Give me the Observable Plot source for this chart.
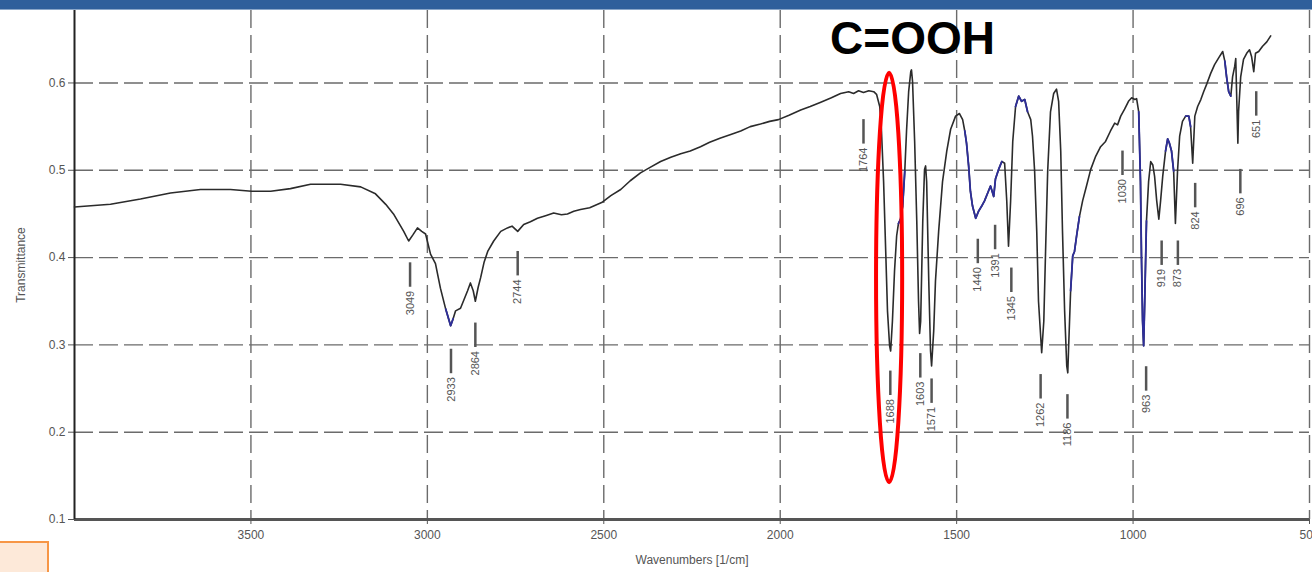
<!DOCTYPE html>
<html>
<head>
<meta charset="utf-8">
<script src="https://cdn.jsdelivr.net/npm/d3@7"></script>
<script src="https://cdn.jsdelivr.net/npm/@observablehq/plot@0.6"></script>
<style>
  html, body { margin: 0; padding: 0; background: #fff; }
  #wrap { position: relative; width: 1312px; height: 572px; overflow: hidden; }
  #topbar { position: absolute; left: 0; top: 0; width: 1312px; height: 9px; background: #2f5f9b; border-bottom: 1px solid #8aa6c8; }
  #box { position: absolute; left: 0; top: 541px; width: 47px; height: 31px; background: #fde9d9; border-top: 2px solid #f79646; border-right: 2px solid #f79646; }
</style>
</head>
<body>
<div id="wrap"><div id="chart"></div><div id="topbar"></div><div id="box"></div></div>
<script>
// Spectrum (wavenumber in 1/cm, transmittance)
const wavenumber = [4000,3898,3813,3728,3643,3558,3498,3444,3388,3331,3246,3189,3147,3118,3096,3067,3053,3041,3028,3016,3005,2991,2977,2963,2948,2934,2927,2920,2906,2896,2886,2878,2870,2864,2856,2849,2839,2829,2812,2792,2773,2760,2744,2727,2708,2688,2665,2642,2620,2603,2585,2566,2540,2506,2480,2452,2425,2396,2370,2339,2310,2282,2255,2226,2200,2169,2140,2112,2085,2056,2030,2005,1975,1942,1915,1885,1855,1829,1806,1792,1778,1764,1749,1735,1727,1718,1713,1707,1701,1696,1690,1687,1682,1676,1670,1665,1659,1653,1647,1642,1636,1630,1628,1625,1619,1613,1608,1605,1602,1596,1591,1588,1585,1579,1574,1571,1565,1560,1551,1540,1528,1517,1503,1492,1483,1477,1472,1466,1461,1455,1446,1438,1429,1421,1412,1404,1395,1390,1381,1372,1364,1358,1353,1347,1341,1333,1324,1316,1307,1299,1290,1285,1279,1273,1268,1259,1253,1248,1242,1234,1225,1217,1211,1205,1200,1194,1188,1185,1183,1177,1171,1166,1160,1152,1143,1132,1120,1106,1092,1078,1064,1052,1044,1035,1024,1013,1004,995,990,984,979,976,973,970,967,962,956,950,944,939,933,927,922,916,908,902,897,891,885,880,874,868,860,851,842,837,831,825,817,808,800,791,780,769,757,746,740,735,729,723,718,712,709,706,703,701,695,687,678,670,664,658,653,644,633,621,610];
const transmittance = [0.458,0.461,0.467,0.474,0.478,0.478,0.476,0.476,0.479,0.484,0.484,0.481,0.473,0.461,0.450,0.430,0.419,0.426,0.434,0.430,0.427,0.404,0.393,0.365,0.341,0.322,0.330,0.339,0.342,0.352,0.362,0.371,0.362,0.350,0.366,0.377,0.395,0.407,0.419,0.430,0.434,0.436,0.430,0.438,0.441,0.445,0.448,0.451,0.449,0.450,0.453,0.455,0.457,0.463,0.471,0.478,0.488,0.497,0.503,0.510,0.515,0.519,0.522,0.527,0.532,0.537,0.541,0.545,0.550,0.553,0.556,0.558,0.563,0.569,0.573,0.578,0.583,0.588,0.590,0.588,0.591,0.589,0.591,0.590,0.587,0.573,0.545,0.487,0.407,0.339,0.299,0.293,0.327,0.385,0.425,0.439,0.444,0.459,0.499,0.545,0.590,0.613,0.615,0.602,0.533,0.442,0.350,0.313,0.327,0.442,0.501,0.505,0.487,0.373,0.293,0.276,0.316,0.373,0.430,0.487,0.522,0.547,0.562,0.565,0.558,0.545,0.531,0.505,0.476,0.459,0.445,0.453,0.459,0.465,0.474,0.482,0.470,0.490,0.501,0.510,0.508,0.465,0.413,0.465,0.533,0.573,0.585,0.579,0.581,0.567,0.558,0.539,0.499,0.430,0.350,0.291,0.327,0.407,0.499,0.567,0.588,0.593,0.579,0.522,0.430,0.339,0.276,0.268,0.293,0.362,0.402,0.407,0.425,0.447,0.465,0.482,0.501,0.516,0.527,0.533,0.545,0.554,0.552,0.562,0.570,0.579,0.583,0.581,0.582,0.567,0.487,0.396,0.327,0.299,0.350,0.442,0.487,0.510,0.506,0.493,0.465,0.444,0.465,0.493,0.522,0.536,0.531,0.522,0.499,0.439,0.499,0.539,0.556,0.562,0.562,0.550,0.508,0.562,0.573,0.581,0.590,0.599,0.611,0.621,0.629,0.636,0.625,0.607,0.590,0.585,0.607,0.619,0.628,0.579,0.531,0.567,0.607,0.627,0.634,0.638,0.630,0.613,0.634,0.636,0.642,0.647,0.654];

// Wavenumber ranges drawn in blue in the original trace
const blueRanges = [[2950,2925],[1668,1645],[1480,1365],[1335,1298],[1180,1148],[985,962],[912,885],[856,832],[742,720]];

// Peak annotations: label value and transmittance at the top of its marker line
const peakWavenumbers = [3049,2933,2864,2744,1764,1688,1603,1571,1440,1391,1345,1262,1186,1030,963,919,873,824,696,651];
const peakLabelTop = [0.394,0.295,0.325,0.407,0.558,0.270,0.290,0.261,0.421,0.437,0.388,0.266,0.243,0.522,0.275,0.419,0.419,0.485,0.501,0.590];

const xTicks = [3500,3000,2500,2000,1500,1000,500];
const yTicks = [0.1,0.2,0.3,0.4,0.5,0.6];

// Annotation: highlighted carbonyl band
const bandLabel = "C=OOH";
const bandLabelAt = [1625, 0.650];
const bandEllipseX = [1727, 1653];
const bandEllipseY = [0.142, 0.611];

const spectrum = wavenumber.map((w, i) => ({w, t: transmittance[i]}));
const blue = [];
blueRanges.forEach(([hi, lo], k) => {
  spectrum.forEach(d => { if (d.w <= hi && d.w >= lo) blue.push({...d, seg: k}); });
});
const peaks = peakWavenumbers.map((w, i) => ({w, top: peakLabelTop[i], label: String(w)}));

const plot = Plot.plot({
  width: 1312,
  height: 572,
  marginLeft: 74,
  marginRight: 3,
  marginTop: 10,
  marginBottom: 53,
  style: {fontFamily: "'Liberation Sans', Arial, sans-serif", fontSize: "12px", color: "#555", background: "transparent"},
  x: {domain: [4000, 500], ticks: xTicks, tickFormat: d => String(d), label: "Wavenumbers [1/cm]", labelAnchor: "center", labelOffset: 44, labelArrow: "none", tickSize: 5, tickPadding: 6},
  y: {domain: [0.1, 0.683], ticks: yTicks, tickFormat: d => d.toFixed(1), label: "Transmittance", labelAnchor: "center", labelOffset: 58, labelArrow: "none", tickSize: 6, tickPadding: 3},
  marks: [
    Plot.gridX(xTicks, {stroke: "#6b6b6b", strokeOpacity: 1, strokeWidth: 1.4, strokeDasharray: "18,7"}),
    Plot.gridY(yTicks.slice(1), {stroke: "#6b6b6b", strokeOpacity: 1, strokeWidth: 1.4, strokeDasharray: "19,6"}),
    Plot.ruleY([0.1], {stroke: "#555", strokeWidth: 3}),
    Plot.ruleX([4000], {stroke: "#222", strokeWidth: 2}),
    Plot.line(spectrum, {x: "w", y: "t", stroke: "#2b2b2b", strokeWidth: 1.6}),
    Plot.line(blue, {x: "w", y: "t", z: "seg", stroke: "#2e2e9a", strokeWidth: 1.8}),
    Plot.ruleX(peaks, {x: "w", y1: "top", y2: d => d.top - 0.028, stroke: "#555", strokeWidth: 2.5}),
    Plot.text(peaks, {x: "w", y: d => d.top - 0.032, text: "label", rotate: -90, textAnchor: "end", fontSize: 11, fill: "#555"}),
    Plot.text([bandLabel], {x: () => bandLabelAt[0], y: () => bandLabelAt[1], text: d => d, fontSize: 46, fontWeight: "bold", fill: "#000", fontFamily: "'Liberation Sans', Arial, sans-serif"})
  ]
});

document.getElementById("chart").appendChild(plot);

// red ellipse around the carbonyl band, positioned through Plot's scales
const sx = plot.scale("x"), sy = plot.scale("y");
const cx = (sx.apply(bandEllipseX[0]) + sx.apply(bandEllipseX[1])) / 2;
const rx = Math.abs(sx.apply(bandEllipseX[0]) - sx.apply(bandEllipseX[1])) / 2;
const cy = (sy.apply(bandEllipseY[0]) + sy.apply(bandEllipseY[1])) / 2;
const ry = Math.abs(sy.apply(bandEllipseY[0]) - sy.apply(bandEllipseY[1])) / 2;
d3.select(plot).append("ellipse")
  .attr("cx", cx).attr("cy", cy).attr("rx", rx).attr("ry", ry)
  .attr("fill", "none").attr("stroke", "#ff0000").attr("stroke-width", 4);
</script>
</body>
</html>
